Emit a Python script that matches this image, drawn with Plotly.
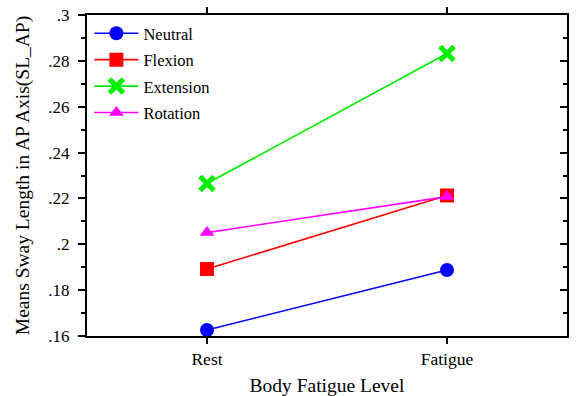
import plotly.graph_objects as go

categories = ["Rest", "Fatigue"]
neutral = [0.1626, 0.1888]
flexion = [0.1892, 0.2213]
extension = [0.2265, 0.2832]
rotation = [0.2051, 0.2208]
ytick_vals = [0.16, 0.18, 0.20, 0.22, 0.24, 0.26, 0.28, 0.30]
ytick_text = [".16", ".18", ".2", ".22", ".24", ".26", ".28", ".3"]

series = [
    ("Neutral", neutral, "#0000ff", "circle", 14),
    ("Flexion", flexion, "#ff0000", "square", 14),
    ("Extension", extension, "#00ee00", "x-thin-open", 14),
    ("Rotation", rotation, "#ff00ff", "triangle-up", 13),
]

fig = go.Figure()
for name, vals, color, sym, size in series:
    marker = dict(symbol=sym, size=size, color=color)
    if sym == "x-thin-open":
        marker["line"] = dict(color=color, width=5)
    fig.add_trace(go.Scatter(
        x=categories, y=vals, mode="lines+markers", name=name,
        legendgroup=name,
        line=dict(color=color, width=1.6), marker=marker,
    ))

# invisible trace on right axis for inside ticks
fig.add_trace(go.Scatter(x=categories, y=[None, None], yaxis="y2",
                         showlegend=False, hoverinfo="skip"))

font_family = "Liberation Serif"
fig.update_layout(
    width=577, height=396,
    margin=dict(l=87, r=10, t=15, b=60),
    paper_bgcolor="white", plot_bgcolor="white",
    font=dict(family=font_family, color="black"),
    showlegend=True,
    legend=dict(x=0.005, y=0.997, xanchor="left", yanchor="top",
                font=dict(size=16.5, family=font_family),
                bgcolor="rgba(0,0,0,0)", tracegroupgap=2, itemwidth=44),
    xaxis=dict(
        range=[-0.5, 1.5], type="category", automargin=False,
        showline=True, linecolor="black", linewidth=2, mirror="ticks",
        ticks="outside", ticklen=6, tickwidth=1.5, tickcolor="black",
        showgrid=False, tickfont=dict(size=17.5),
        title=dict(text="Body Fatigue Level", font=dict(size=19.5), standoff=10),
    ),
    yaxis=dict(
        range=[0.16, 0.30], tickvals=ytick_vals, ticktext=ytick_text,
        automargin=False, ticklabelstandoff=5,
        showline=True, linecolor="black", linewidth=2,
        ticks="outside", ticklen=7, tickwidth=1.5, tickcolor="black",
        minor=dict(dtick=0.01, tick0=0.16, ticks="outside", ticklen=4, tickwidth=1.5, tickcolor="black"),
        showgrid=False, zeroline=False, tickfont=dict(size=17),
        title=dict(text="Means Sway Length in AP Axis(SL_AP)", font=dict(size=19.5), standoff=14),
    ),
    yaxis2=dict(
        overlaying="y", side="right", range=[0.16, 0.30], tickvals=ytick_vals,
        showticklabels=False, showline=True, linecolor="black", linewidth=2,
        ticks="inside", ticklen=7, tickwidth=1.5, tickcolor="black",
        minor=dict(dtick=0.01, tick0=0.16, ticks="inside", ticklen=4, tickwidth=1.5, tickcolor="black"),
        showgrid=False, zeroline=False, automargin=False,
    ),
)

fig.write_html("out.html", config={"displayModeBar": False},
               post_script="document.body.style.margin='0';")
